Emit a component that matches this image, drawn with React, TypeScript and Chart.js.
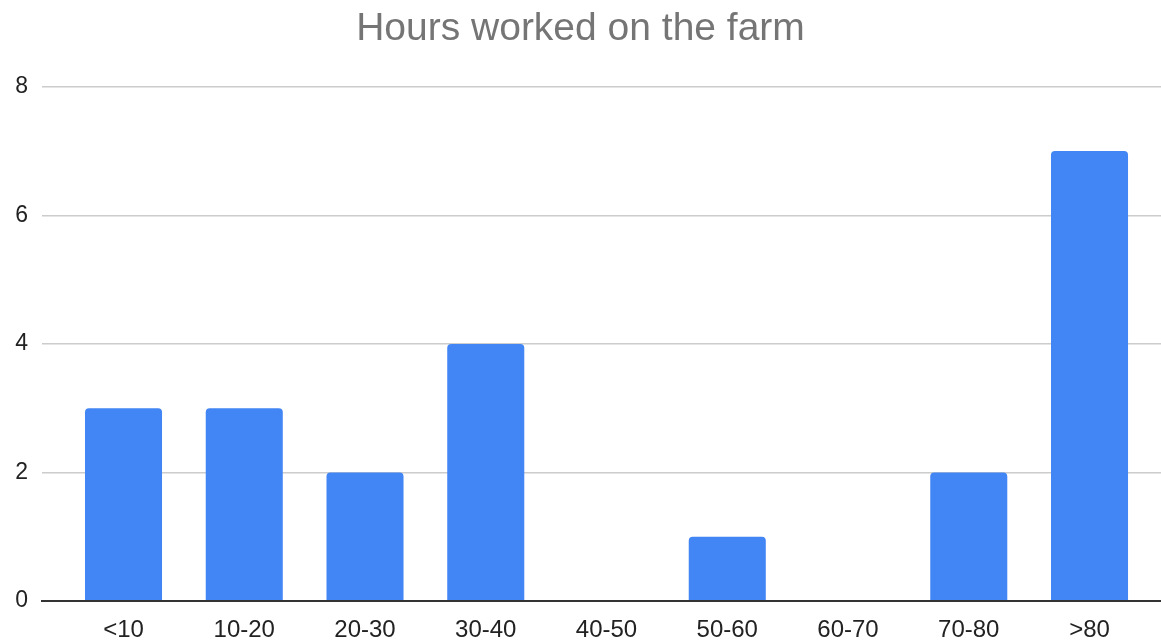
import React, { useEffect, useRef } from "react";
import { Chart, registerables } from "chart.js";

Chart.register(...registerables);

const TITLE = "Hours worked on the farm";
const CATEGORIES = ["<10", "10-20", "20-30", "30-40", "40-50", "50-60", "60-70", "70-80", ">80"];
const COUNTS = [3, 3, 2, 4, 0, 1, 0, 2, 7];
const Y_TICKS = [0, 2, 4, 6, 8];

const FONT = "'Liberation Sans', Arial, Helvetica, sans-serif";

export default function App() {
  const ref = useRef<HTMLCanvasElement | null>(null);

  useEffect(() => {
    if (!ref.current) return;
    const points = CATEGORIES.map((_, i) => ({ x: i, y: COUNTS[i] }));
    const chart = new Chart(ref.current, {
      type: "bar",
      data: {
        datasets: [
          {
            data: points as any,
            backgroundColor: "#4285f4",
            borderWidth: 0,
            borderRadius: 4,
            borderSkipped: "start",
            categoryPercentage: 1,
            barPercentage: 0.638,
          },
        ],
      },
      options: {
        animation: false,
        responsive: false,
        maintainAspectRatio: false,
        layout: { padding: 0 },
        plugins: {
          legend: { display: false },
          tooltip: { enabled: false },
          title: {
            display: true,
            text: TITLE,
            color: "#757575",
            font: { family: FONT, size: 39, weight: "normal" },
            padding: { top: 6, bottom: 34 },
          },
        },
        scales: {
          x: {
            type: "linear",
            min: -0.675,
            max: 8.592,
            offset: false,
            grid: { display: false, drawTicks: false },
            border: { display: true, color: "#333333", width: 2 },
            ticks: {
              stepSize: 1,
              includeBounds: false,
              autoSkip: false,
              maxRotation: 0,
              padding: 15,
              color: "#222222",
              font: { family: FONT, size: 24 },
              callback: (v: any) => {
                const n = Number(v);
                return Number.isInteger(n) && CATEGORIES[n] !== undefined ? CATEGORIES[n] : "";
              },
            },
            afterFit: (scale: any) => {
              scale.height = 39;
            },
          },
          y: {
            min: Y_TICKS[0],
            max: Y_TICKS[Y_TICKS.length - 1],
            border: { display: false },
            grid: {
              drawTicks: false,
              lineWidth: (ctx: any) => (ctx.tick && ctx.tick.value === 0 ? 2 : 1.5),
              color: (ctx: any) => (ctx.tick && ctx.tick.value === 0 ? "#333333" : "#cccccc"),
            },
            ticks: {
              stepSize: 2,
              padding: 14,
              color: "#222222",
              font: { family: FONT, size: 23 },
            },
            afterFit: (scale: any) => {
              scale.width = 42;
            },
          },
        },
      },
    });
    return () => chart.destroy();
  }, []);

  return (
    <div style={{ position: "fixed", left: 0, top: 0, width: 1161, height: 640, background: "#ffffff" }}>
      <canvas ref={ref} width={1161} height={640} style={{ width: 1161, height: 640, display: "block" }} />
    </div>
  );
}
